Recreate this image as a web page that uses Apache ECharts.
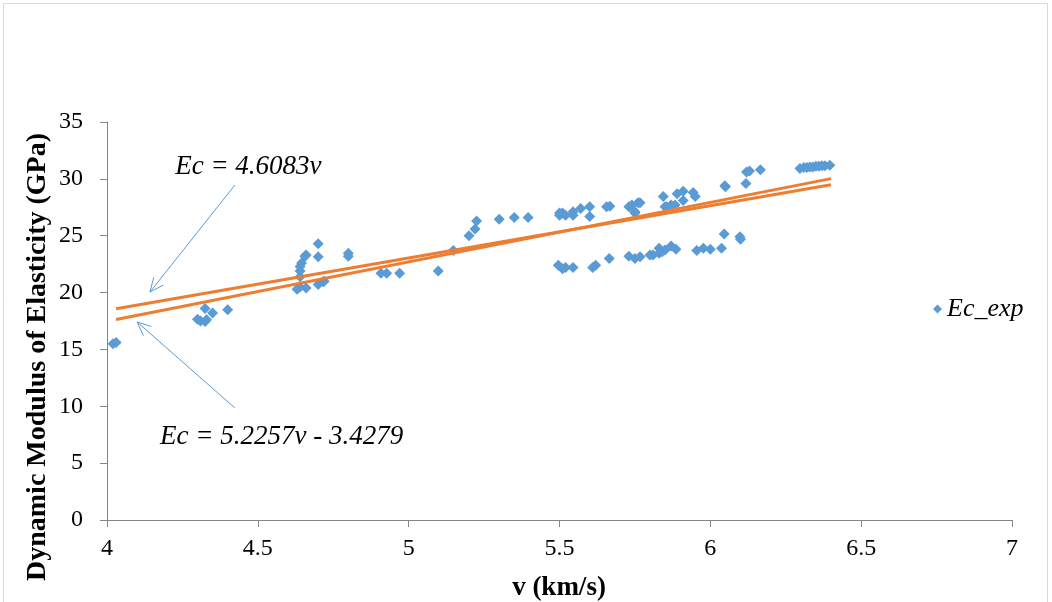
<!DOCTYPE html>
<html lang="en">
<head>
<meta charset="utf-8">
<style>
  html, body { margin: 0; padding: 0; background: #fff; }
  #container { width: 1052px; height: 602px; }
</style>
</head>
<body>
<div id="container"></div>
<script src="https://cdn.jsdelivr.net/npm/echarts@6/dist/echarts.min.js"></script>
<script>
const vKm = [
  4.02, 4.03,
  4.30, 4.31, 4.325, 4.33, 4.325, 4.35, 4.40,
  4.63, 4.64, 4.66, 4.70, 4.716, 4.72, 4.64, 4.64, 4.64, 4.645, 4.656, 4.66, 4.70, 4.70, 4.80, 4.80,
  4.908, 4.927, 4.97, 5.098, 5.148,
  5.20, 5.22, 5.225, 5.30, 5.35, 5.396,
  5.50, 5.50, 5.51, 5.52, 5.545, 5.545, 5.57, 5.60, 5.60, 5.656, 5.667, 5.73, 5.74, 5.75, 5.76,
  5.767, 5.75, 5.844, 5.85, 5.855, 5.87, 5.883, 5.89, 5.91, 5.91, 5.943, 5.95,
  6.048, 6.05, 6.118, 6.12, 6.13, 6.166,
  6.297, 6.31, 6.32, 6.33, 6.34, 6.35, 6.36, 6.37, 6.38, 6.396,
  5.496, 5.51, 5.52, 5.545, 5.61, 5.62, 5.665, 5.73, 5.75, 5.767, 5.80, 5.81, 5.83, 5.83, 5.84,
  5.85, 5.87, 5.886, 5.955, 5.977, 6.0, 6.037, 6.046, 6.098, 6.10
];
const ecGpa = [
  15.5, 15.6,
  17.65, 17.5, 17.45, 17.6, 18.6, 18.2, 18.5,
  20.3, 20.5, 20.4, 20.7, 20.96, 21.0, 21.4, 21.9, 22.3, 22.6, 23.2, 23.3, 23.15, 24.3, 23.45, 23.2,
  21.7, 21.7, 21.7, 21.9, 23.7,
  25.0, 25.6, 26.3, 26.45, 26.6, 26.6,
  26.8, 27.0, 27.0, 26.8, 26.8, 27.1, 27.4, 27.55, 26.7, 27.55, 27.6, 27.55, 27.7, 27.0, 27.9,
  27.9, 27.1, 28.45, 27.55, 27.55, 27.7, 27.7, 28.7, 28.9, 28.1, 28.8, 28.45,
  29.4, 29.3, 29.6, 30.6, 30.7, 30.8,
  30.9, 31.0, 31.0, 31.05, 31.05, 31.1, 31.1, 31.15, 31.15, 31.2,
  22.4, 22.1, 22.2, 22.2, 22.2, 22.4, 23.0, 23.2, 23.0, 23.15, 23.3, 23.3, 23.9, 23.45, 23.6,
  23.75, 24.1, 23.8, 23.7, 23.9, 23.8, 23.9, 25.15, 24.9, 24.7
];
// trend line end points (Ec = 4.6083v and Ec = 5.2257v - 3.4279)
const trendThroughOrigin = [[4.03, 18.57], [6.40, 29.49]];
const trendLinear = [[4.03, 17.63], [6.40, 30.02]];

const xTicks = { min: 4, max: 7, step: 0.5 };
const yTicks = { min: 0, max: 35, step: 5 };

const serif = '"Liberation Serif", "Times New Roman", serif';
const blue = '#5b9bd5';
const orange = '#ed7d31';

const points = vKm.map(function (v, i) { return [v, ecGpa[i]]; });

var chart = echarts.init(document.getElementById('container'), null, { renderer: 'canvas' });

var option = {
  animation: false,
  backgroundColor: '#fff',
  grid: { left: 107, right: 40, top: 122, bottom: 82 },
  legend: {
    data: [{ name: 'Ec_exp', icon: 'diamond' }],
    left: 928,
    top: 291,
    itemWidth: 9,
    itemHeight: 9,
    itemGap: 8,
    textStyle: { fontFamily: serif, fontStyle: 'italic', fontSize: 26, color: '#000' }
  },
  xAxis: {
    type: 'value',
    min: xTicks.min,
    max: xTicks.max,
    interval: xTicks.step,
    splitLine: { show: false },
    axisLine: { show: true, onZero: false, lineStyle: { color: '#868686', width: 1 } },
    axisTick: { show: true, length: 7, lineStyle: { color: '#868686' } },
    axisLabel: { fontFamily: serif, fontSize: 24, color: '#000', margin: 17 }
  },
  yAxis: {
    type: 'value',
    min: yTicks.min,
    max: yTicks.max,
    interval: yTicks.step,
    splitLine: { show: false },
    axisLine: { show: true, lineStyle: { color: '#868686', width: 1 } },
    axisTick: { show: true, length: 7, lineStyle: { color: '#868686' } },
    axisLabel: { fontFamily: serif, fontSize: 24, color: '#000', margin: 24 }
  },
  series: [
    {
      name: 'trend1',
      type: 'line',
      data: trendThroughOrigin,
      symbol: 'none',
      lineStyle: { color: orange, width: 3 },
      z: 3
    },
    {
      name: 'trend2',
      type: 'line',
      data: trendLinear,
      symbol: 'none',
      lineStyle: { color: orange, width: 3 },
      z: 3
    },
    {
      name: 'Ec_exp',
      type: 'scatter',
      data: points,
      symbol: 'diamond',
      symbolSize: 11,
      itemStyle: { color: blue, opacity: 1 },
      z: 2
    }
  ]
};
chart.setOption(option);

// annotations: label text and arrow, positioned in data coordinates
const notes = [
  { text: 'Ec = 4.6083v', at: [4.226, 31.04], from: [4.424, 29.46], to: [4.1425, 20.05] },
  { text: 'Ec = 5.2257v - 3.4279', at: [4.176, 7.3], from: [4.424, 9.85], to: [4.10, 17.41] }
];

function arrowParts(p0, p1) {
  var ang = Math.atan2(p1[1] - p0[1], p1[0] - p0[0]);
  var len = 15, spread = 0.42;
  var a = [p1[0] - len * Math.cos(ang - spread), p1[1] - len * Math.sin(ang - spread)];
  var b = [p1[0] - len * Math.cos(ang + spread), p1[1] - len * Math.sin(ang + spread)];
  return [
    { type: 'polyline', shape: { points: [p0, p1] }, style: { stroke: blue, lineWidth: 1, fill: null }, z: 10 },
    { type: 'polyline', shape: { points: [a, p1, b] }, style: { stroke: blue, lineWidth: 1, fill: null }, z: 10 }
  ];
}

var elements = [
  {
    type: 'rect',
    shape: { x: 3.5, y: 3.5, width: 1044, height: 640 },
    style: { fill: null, stroke: '#d9d9d9', lineWidth: 1 },
    silent: true
  },
  {
    type: 'text',
    x: 38,
    y: 357,
    rotation: Math.PI / 2,
    style: {
      text: 'Dynamic Modulus of Elasticity (GPa)',
      font: 'bold 28px ' + serif,
      fill: '#000',
      align: 'center',
      verticalAlign: 'middle'
    }
  },
  {
    type: 'text',
    x: 559,
    y: 588,
    style: {
      text: 'v (km/s)',
      font: 'bold 27px ' + serif,
      fill: '#000',
      align: 'center',
      verticalAlign: 'middle'
    }
  }
];

notes.forEach(function (n) {
  var pos = chart.convertToPixel({ gridIndex: 0 }, n.at);
  elements.push({
    type: 'text',
    x: pos[0],
    y: pos[1],
    style: { text: n.text, font: 'italic 27px ' + serif, fill: '#000', align: 'left', verticalAlign: 'middle' },
    z: 10
  });
  var p0 = chart.convertToPixel({ gridIndex: 0 }, n.from);
  var p1 = chart.convertToPixel({ gridIndex: 0 }, n.to);
  elements = elements.concat(arrowParts(p0, p1));
});

chart.setOption({ graphic: { elements: elements } });

window.addEventListener('resize', chart.resize);
</script>
</body>
</html>
